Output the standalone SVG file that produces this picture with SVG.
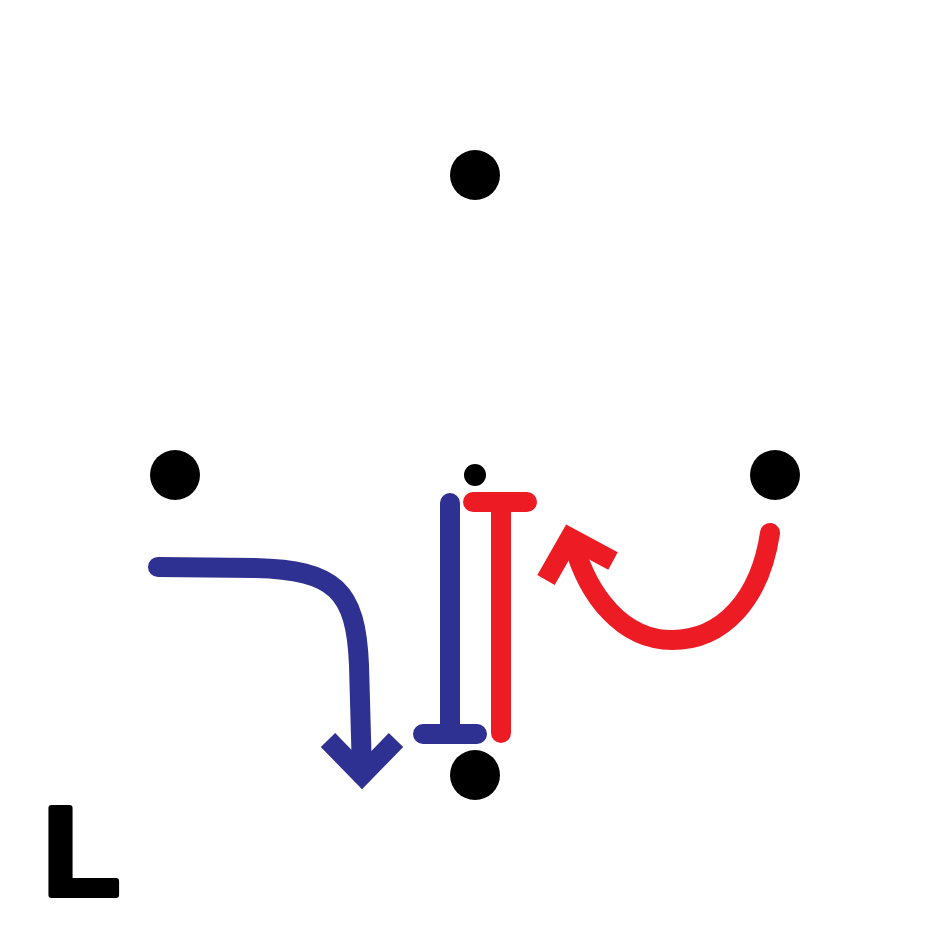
<svg xmlns="http://www.w3.org/2000/svg" width="950" height="950" viewBox="0 0 950 950">
<style>
.node{fill:#000}
.blue{fill:none;stroke:#2E3192;stroke-width:20}
.red{fill:none;stroke:#ED1C24;stroke-width:20}
.rc{stroke-linecap:round}
.head{stroke-linecap:butt;stroke-linejoin:miter;stroke-miterlimit:10}
.lbl{font-family:"Liberation Sans",Arial,sans-serif;font-weight:bold;font-size:126px;fill:#000;stroke:#000;stroke-width:6;stroke-linejoin:round}
</style>
<rect width="950" height="950" fill="#fff"/>
<g id="node-top"><circle class="node" cx="475" cy="175" r="25"/></g>
<g id="node-left"><circle class="node" cx="175" cy="475" r="25"/></g>
<g id="node-right"><circle class="node" cx="775" cy="475" r="25"/></g>
<g id="node-bottom"><circle class="node" cx="475" cy="775" r="25"/></g>
<g id="node-center"><circle class="node" cx="475" cy="475" r="11"/></g>
<g id="connectors">
  <path class="blue rc" d="M158,567 L255,568 C335,570 356,590 359,665 L362,772"/>
  <polyline class="blue head" points="328,740 362,775 396,740"/>
  <path class="blue rc" d="M450,503 V734 M423,734 H477"/>
  <path class="red rc" d="M501,733 V502 M473,502 H527"/>
  <path class="red rc" d="M770,533 C760,600 722,640 672,640 C622,640 588,595 574,545"/>
  <polyline class="red head" points="546,580 570,538 613,561"/>
</g>
<text class="lbl" x="43" y="895">L</text>
</svg>
